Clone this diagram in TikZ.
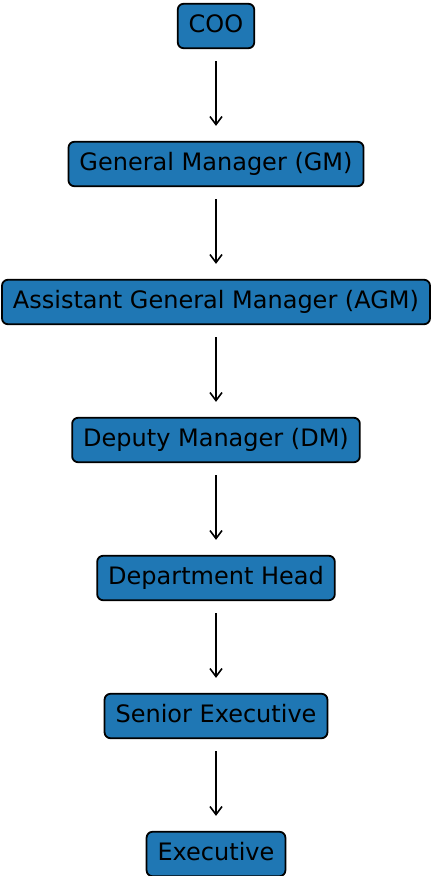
\documentclass[tikz,border=0pt]{standalone}
\usepackage{fontspec}
\setmainfont{DejaVu Sans}
\usepackage{tikz}
\usetikzlibrary{arrows.meta,backgrounds,calc}
\definecolor{rolefill}{HTML}{1F77B4}

\begin{document}
\begin{tikzpicture}[x=1pt,y=1pt,
  rolebox/.style={draw=black,line width=1.8pt,fill=rolefill,rounded corners=6pt,
    font=\fontsize{24}{28}\selectfont,text=black,
    inner xsep=11pt,inner ysep=11pt,text height=17.5pt,text depth=5pt},
  link/.style={-{Straight Barb[length=8pt,width=12pt,line width=1.6pt]},line width=1.6pt,
    shorten <=12pt,shorten >=15pt}]
\useasboundingbox (0,0) rectangle (431,-876);
\node[rolebox] (coo) at (216,-26) {COO};
\node[rolebox] (gm) at (216,-164) {General Manager (GM)};
\node[rolebox] (agm) at (216,-302) {Assistant General Manager (AGM)};
\node[rolebox] (dm) at (216,-440) {Deputy Manager (DM)};
\node[rolebox] (head) at (216,-578) {Department Head};
\node[rolebox] (senior) at (216,-716) {Senior Executive};
\node[rolebox] (exec) at (216,-854) {Executive};
\draw[link] (coo) -- (gm);
\draw[link] (gm) -- (agm);
\draw[link] (agm) -- (dm);
\draw[link] (dm) -- (head);
\draw[link] (head) -- (senior);
\draw[link] (senior) -- (exec);
\end{tikzpicture}
\end{document}
